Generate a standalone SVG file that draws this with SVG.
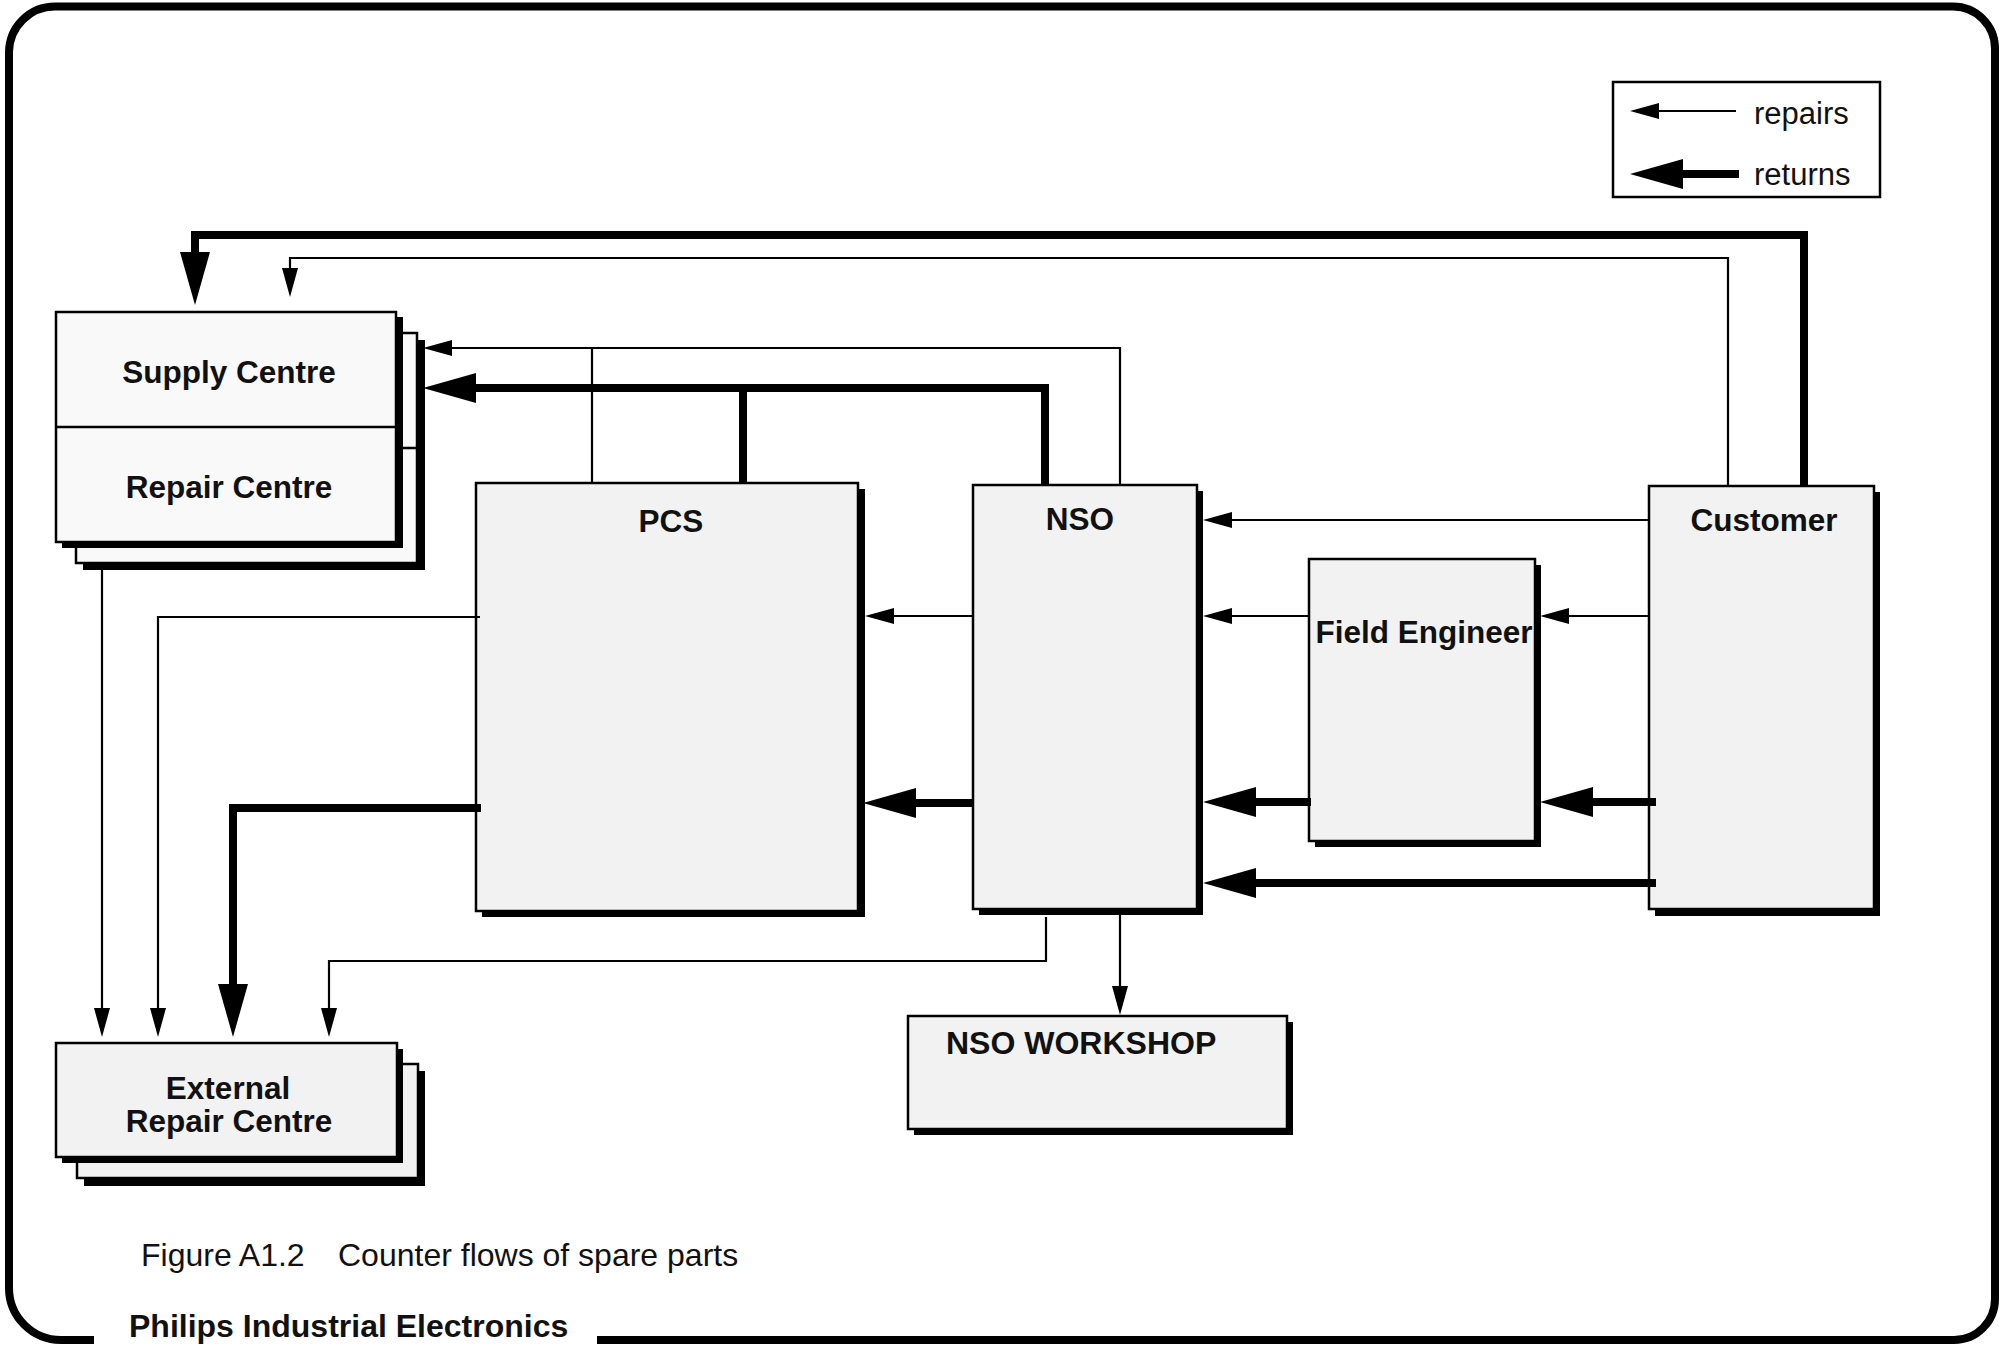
<svg xmlns="http://www.w3.org/2000/svg" width="1999" height="1345" viewBox="0 0 1999 1345">
<style>
.box{fill:#f2f2f2;stroke:#000;stroke-width:2.5}
.boxw{fill:#f9f9f9;stroke:#000;stroke-width:2.5}
.shadow{fill:#000}
.lbl{font-family:"Liberation Sans",Arial,sans-serif;font-weight:bold;font-size:31.5px;fill:#111;text-anchor:middle}
.thin{fill:none;stroke:#000;stroke-width:2.2;stroke-linejoin:miter}
.thick{fill:none;stroke:#000;stroke-width:8;stroke-linejoin:miter}
.plain{font-family:"Liberation Sans",Arial,sans-serif;font-size:31px;fill:#111}
</style>
<defs>
<marker id="ah" markerUnits="userSpaceOnUse" markerWidth="30" markerHeight="16" viewBox="0 -8 30 16" refX="0" refY="0" orient="auto"><path d="M0,-8 L29,0 L0,8 Z" fill="#000"/></marker>
<marker id="ahT" markerUnits="userSpaceOnUse" markerWidth="54" markerHeight="30" viewBox="0 -15 54 30" refX="0" refY="0" orient="auto"><path d="M0,-15 L53,0 L0,15 Z" fill="#000"/></marker>
</defs>
<rect x="0" y="0" width="1999" height="1345" fill="#fff"/>
<g id="frame"><path d="M94 1340 L61 1340 A52 52 0 0 1 9 1288 L9 52 A46 46 0 0 1 55 6.5 L1953 6.5 A42 42 0 0 1 1995 48.5 L1995 1299 A41 41 0 0 1 1954 1340 L597 1340" fill="none" stroke="#000" stroke-width="8"/></g>

<g id="legend">
<rect x="1613" y="82" width="267" height="115" fill="#fff" stroke="#000" stroke-width="2.5"/>
<path d="M1736 111 H1659" class="thin" marker-end="url(#ah)"/>
<path d="M1739 174 H1683" class="thick" marker-end="url(#ahT)"/>
<text x="1754" y="124" class="plain">repairs</text>
<text x="1754" y="185" class="plain">returns</text>
</g>

<g id="supply-repair-centre">
<rect x="83" y="340" width="342" height="230" class="shadow"/>
<rect x="76" y="333" width="341" height="230" class="boxw"/>
<line x1="76" y1="448" x2="417" y2="448" stroke="#000" stroke-width="2.5"/>
<rect x="62" y="317" width="341" height="231" class="shadow"/>
<rect x="56" y="312" width="340" height="230" class="boxw"/>
<line x1="56" y1="427" x2="396" y2="427" stroke="#000" stroke-width="2.5"/>
<text x="229" y="383" class="lbl">Supply Centre</text>
<text x="229" y="498" class="lbl">Repair Centre</text>
</g>

<g id="external-repair-centre">
<rect x="84" y="1071" width="341" height="115" class="shadow"/>
<rect x="77" y="1064" width="341" height="114" class="box"/>
<rect x="62" y="1049" width="341" height="114" class="shadow"/>
<rect x="56" y="1043" width="341" height="114" class="box"/>
<text x="228" y="1099" class="lbl">External</text>
<text x="229" y="1132" class="lbl">Repair Centre</text>
</g>

<g id="pcs">
<rect x="482" y="489" width="383" height="428" class="shadow"/>
<rect x="476" y="483" width="382" height="428" class="box"/>
<text x="671" y="532" class="lbl">PCS</text>
</g>

<g id="nso">
<rect x="979" y="491" width="224" height="424" class="shadow"/>
<rect x="973" y="485" width="224" height="424" class="box"/>
<text x="1080" y="530" class="lbl">NSO</text>
</g>

<g id="field-engineer">
<rect x="1315" y="565" width="226" height="282" class="shadow"/>
<rect x="1309" y="559" width="226" height="282" class="box"/>
<text x="1424" y="643" class="lbl">Field Engineer</text>
</g>

<g id="customer">
<rect x="1655" y="492" width="225" height="424" class="shadow"/>
<rect x="1649" y="486" width="225" height="423" class="box"/>
<text x="1764" y="531" class="lbl">Customer</text>
</g>

<g id="nso-workshop">
<rect x="914" y="1022" width="379" height="113" class="shadow"/>
<rect x="908" y="1016" width="379" height="113" class="box"/>
<text x="946" y="1054" class="lbl" style="text-anchor:start;font-size:32px">NSO WORKSHOP</text>
</g>

<g id="connectors">
<path d="M1728 486 V258 H290 V268" class="thin" marker-end="url(#ah)"/>
<path d="M1120 485 V348 H452" class="thin" marker-end="url(#ah)"/>
<path d="M592 483 V348" class="thin"/>
<path d="M1649 520 H1232" class="thin" marker-end="url(#ah)"/>
<path d="M1649 616 H1569" class="thin" marker-end="url(#ah)"/>
<path d="M1309 616 H1232" class="thin" marker-end="url(#ah)"/>
<path d="M973 616 H894" class="thin" marker-end="url(#ah)"/>
<path d="M480 617 H158 V1008" class="thin" marker-end="url(#ah)"/>
<path d="M102 569 V1008" class="thin" marker-end="url(#ah)"/>
<path d="M1046 917 V961 H329 V1008" class="thin" marker-end="url(#ah)"/>
<path d="M1120 915 V986" class="thin" marker-end="url(#ah)"/>
<path d="M1804 486 V235 H195 V252" class="thick" marker-end="url(#ahT)"/>
<path d="M1045 485 V388 H476" class="thick" marker-end="url(#ahT)"/>
<path d="M743 483 V388" class="thick"/>
<path d="M1656 802 H1593" class="thick" marker-end="url(#ahT)"/>
<path d="M1311 802 H1256" class="thick" marker-end="url(#ahT)"/>
<path d="M973 803 H916" class="thick" marker-end="url(#ahT)"/>
<path d="M1656 883 H1256" class="thick" marker-end="url(#ahT)"/>
<path d="M481 808 H233 V984" class="thick" marker-end="url(#ahT)"/>
</g>

<g id="caption">
<text y="1266" class="plain" style="font-size:32px"><tspan x="141">Figure A1.2</tspan><tspan x="338">Counter flows of spare parts</tspan></text>
<text x="129" y="1337" class="plain" style="font-weight:bold;font-size:32px">Philips Industrial Electronics</text>
</g>
</svg>
